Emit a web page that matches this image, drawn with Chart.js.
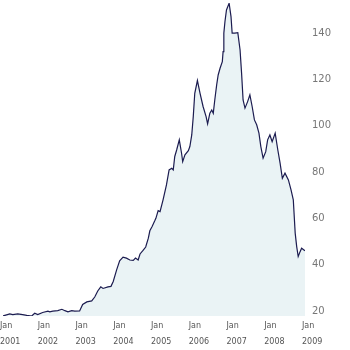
<!DOCTYPE html>
<html>
<head>
<meta charset="utf-8">
<script src="https://cdn.jsdelivr.net/npm/chart.js@4"></script>
<style>
  html, body { margin: 0; padding: 0; background: #fff; }
  #wrap { width: 350px; height: 350px; position: relative; }
</style>
</head>
<body>
<div id="wrap"><canvas id="chart"></canvas></div>
<script>
// dates as decimal years, prices
const dates = [
  2001.00, 2001.18, 2001.26, 2001.39, 2001.52, 2001.63, 2001.76, 2001.84, 2001.92,
  2002.05, 2002.19, 2002.24, 2002.32, 2002.45, 2002.56, 2002.64, 2002.72, 2002.82, 2002.90,
  2003.03, 2003.11, 2003.22, 2003.35, 2003.43, 2003.51, 2003.59, 2003.65, 2003.78, 2003.86, 2003.92,
  2004.01, 2004.09, 2004.18, 2004.27, 2004.36, 2004.45, 2004.51, 2004.58, 2004.63, 2004.71,
  2004.78, 2004.85, 2004.89, 2004.95,
  2005.02, 2005.05, 2005.11, 2005.16, 2005.24, 2005.33, 2005.40, 2005.47, 2005.51, 2005.55,
  2005.60, 2005.67, 2005.73, 2005.76, 2005.82, 2005.91, 2005.95,
  2006.00, 2006.04, 2006.08, 2006.15, 2006.22, 2006.30, 2006.38, 2006.42, 2006.48, 2006.53,
  2006.57, 2006.61, 2006.66, 2006.70, 2006.75, 2006.81, 2006.83, 2006.85, 2006.88, 2006.92, 2006.99,
  2007.04, 2007.07, 2007.14, 2007.22, 2007.28, 2007.32, 2007.36, 2007.41, 2007.48, 2007.54,
  2007.60, 2007.66, 2007.72, 2007.78, 2007.83, 2007.89, 2007.96,
  2008.01, 2008.07, 2008.13, 2008.21, 2008.28, 2008.34, 2008.40, 2008.47, 2008.56, 2008.63,
  2008.69, 2008.74, 2008.78, 2008.82, 2008.87, 2008.91, 2009.00
];
const prices = [
  17.8, 18.7, 18.4, 18.7, 18.4, 18.1, 17.8, 19.0, 18.4,
  19.3, 19.9, 19.6, 19.9, 20.1, 20.7, 20.1, 19.6, 20.1, 19.9,
  20.0, 22.8, 23.9, 24.3, 26.0, 28.6, 30.4, 29.7, 30.4, 30.6, 32.7,
  37.7, 41.6, 43.2, 42.8, 42.0, 41.8, 42.8, 42.0, 44.6, 46.1,
  47.6, 51.4, 54.6, 56.5,
  58.9, 60.0, 63.3, 62.9, 68.0, 74.4, 80.9, 81.6, 80.9, 86.7,
  89.5, 93.9, 88.1, 84.5, 87.4, 89.2, 91.0,
  96.0, 103.9, 114.0, 119.5, 114.0, 108.3, 103.9, 100.8, 105.4, 106.8,
  105.4, 111.1, 117.6, 121.9, 124.8, 127.7, 132.0, 140.0, 145.0, 150.0, 152.9,
  147.1, 140.0, 140.0, 140.2, 132.7, 122.7, 111.1, 107.6, 110.4, 113.3,
  108.3, 102.5, 100.4, 96.8, 91.0, 86.0, 88.8,
  93.9, 96.0, 93.1, 96.8, 89.5, 83.8, 77.3, 79.5, 76.6, 72.3,
  68.0, 53.6, 47.8, 43.5, 45.6, 47.1, 46.0
];
const yearTicks = [2001, 2002, 2003, 2004, 2005, 2006, 2007, 2008, 2009];
const priceTicks = [20, 40, 60, 80, 100, 120, 140];

const points = dates.map((d, i) => ({ x: d, y: prices[i] }));

// labels sit a little left of the year boundary in the original
const labelShift = 0.08;

const ctx = document.getElementById('chart').getContext('2d');
new Chart(ctx, {
  type: 'line',
  data: {
    datasets: [{
      data: points,
      borderColor: '#1c1c50',
      backgroundColor: '#eaf3f5',
      borderWidth: 1.2,
      fill: 'start',
      pointRadius: 0,
      tension: 0
    }]
  },
  options: {
    responsive: true,
    maintainAspectRatio: false,
    animation: false,
    layout: { padding: { left: 3, top: 3, right: 0, bottom: 0 } },
    plugins: { legend: { display: false }, tooltip: { enabled: false } },
    scales: {
      x: {
        type: 'linear',
        min: 2001,
        max: 2009,
        grid: { display: false, drawTicks: false },
        border: { display: false },
        afterBuildTicks: (scale) => { scale.ticks = yearTicks.map(v => ({ value: v - labelShift })); },
        afterFit: (scale) => {
          scale.height = 34;
          scale.paddingLeft = 0;
          scale.paddingRight = 0;
        },
        ticks: {
          align: 'start',
          padding: 2,
          maxRotation: 0,
          autoSkip: false,
          color: '#555',
          font: { family: 'DejaVu Sans', size: 8, lineHeight: 2 },
          callback: (v) => ['Jan', String(Math.round(v))]
        }
      },
      y: {
        position: 'right',
        min: 17.8,
        max: 153,
        grid: { display: false, drawTicks: false },
        border: { display: false },
        afterBuildTicks: (scale) => { scale.ticks = priceTicks.map(v => ({ value: v })); },
        afterFit: (scale) => {
          scale.width = 45;
          scale.paddingTop = 0;
          scale.paddingBottom = 0;
        },
        ticks: {
          padding: 7,
          color: '#777',
          font: { family: 'DejaVu Sans', size: 10 }
        }
      }
    }
  }
});
</script>
</body>
</html>
